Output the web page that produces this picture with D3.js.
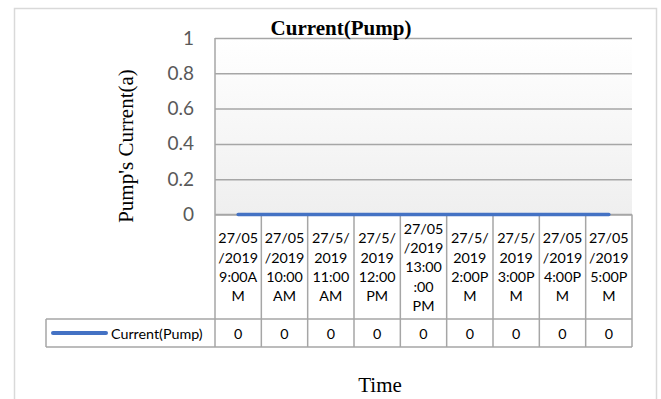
<!DOCTYPE html>
<html>
<head>
<meta charset="utf-8">
<script src="https://cdn.jsdelivr.net/npm/d3@7"></script>
<style>
  html, body { margin: 0; padding: 0; background: #fff; }
  svg { display: block; }
</style>
</head>
<body>
<svg id="chart" width="661" height="399"></svg>
<script>
// Time stamps, already broken into the lines shown in each table header cell
const categories = [
  ["27/05", "/2019", "9:00A", "M"],
  ["27/05", "/2019", "10:00", "AM"],
  ["27/5/", "2019", "11:00", "AM"],
  ["27/5/", "2019", "12:00", "PM"],
  ["27/05", "/2019", "13:00", ":00", "PM"],
  ["27/5/", "2019", "2:00P", "M"],
  ["27/5/", "2019", "3:00P", "M"],
  ["27/05", "/2019", "4:00P", "M"],
  ["27/05", "/2019", "5:00P", "M"]
];
const seriesName = "Current(Pump)";
const pumpCurrent = [0, 0, 0, 0, 0, 0, 0, 0, 0];
const yTicks = [0, 0.2, 0.4, 0.6, 0.8, 1];
const chartTitle = "Current(Pump)";
const yTitle = "Pump's Current(a)";
const xTitle = "Time";

const svg = d3.select("#chart");
const W = 661, H = 399;
const plot = { left: 215, right: 632, top: 38, bottom: 214.5 };
const table = { headerBottom: 319, rowBottom: 347, legendLeft: 46 };
const gridColor = "#a6a6a6";
const lineColor = "#4472c4";
const sansFont = "Lato, 'Liberation Sans', sans-serif";
const serifFont = "'Liberation Serif', 'DejaVu Serif', serif";
const cellFontSize = 14.3;

// outer chart frame
svg.append("rect").attr("width", W).attr("height", H).attr("fill", "#fff");
svg.append("rect")
  .attr("x", 14.5).attr("y", 8.5).attr("width", 642).attr("height", 420)
  .attr("fill", "#fff").attr("stroke", "#d9d9d9").attr("stroke-width", 1.5);

const x = d3.scaleBand().domain(d3.range(categories.length)).range([plot.left, plot.right]).padding(0);
const y = d3.scaleLinear().domain([0, 1]).range([plot.bottom, plot.top]);

// plot area shading
const defs = svg.append("defs");
const grad = defs.append("linearGradient").attr("id", "plotFill")
  .attr("x1", 0).attr("y1", 0).attr("x2", 0).attr("y2", 1);
grad.append("stop").attr("offset", "0%").attr("stop-color", "#ffffff");
grad.append("stop").attr("offset", "100%").attr("stop-color", "#efefef");
svg.append("rect")
  .attr("x", plot.left).attr("y", plot.top)
  .attr("width", plot.right - plot.left).attr("height", plot.bottom - plot.top)
  .attr("fill", "url(#plotFill)");

// horizontal gridlines
const grid = svg.append("g")
  .attr("transform", `translate(${plot.left},0)`)
  .call(d3.axisLeft(y).tickValues(yTicks).tickSize(-(plot.right - plot.left)).tickFormat(""));
grid.select(".domain").remove();
grid.selectAll(".tick line").attr("stroke", gridColor).attr("stroke-width", 1.5);

// y tick labels
const yAxis = svg.append("g")
  .attr("transform", `translate(${plot.left - 21},0)`)
  .call(d3.axisLeft(y).tickValues(yTicks).tickSize(0).tickPadding(0)
    .tickFormat(d => String(+d.toFixed(1))));
yAxis.select(".domain").remove();
yAxis.selectAll(".tick text")
  .attr("font-family", sansFont).attr("font-size", 19).attr("fill", "#595959");

// data table: header and value rows
const tbl = svg.append("g").attr("stroke", gridColor).attr("stroke-width", 1.5).attr("fill", "none");
// left axis line running down through the table
tbl.append("line").attr("x1", plot.left).attr("x2", plot.left)
  .attr("y1", plot.top).attr("y2", table.rowBottom);
// column separators
categories.forEach((c, i) => {
  const xr = x(i) + x.bandwidth();
  tbl.append("line").attr("x1", xr).attr("x2", xr)
    .attr("y1", plot.bottom).attr("y2", table.rowBottom);
});
// horizontal table rules
tbl.append("line").attr("x1", plot.left).attr("x2", plot.right)
  .attr("y1", plot.bottom).attr("y2", plot.bottom);
tbl.append("line").attr("x1", table.legendLeft).attr("x2", plot.right)
  .attr("y1", table.headerBottom).attr("y2", table.headerBottom);
tbl.append("line").attr("x1", table.legendLeft).attr("x2", plot.right)
  .attr("y1", table.rowBottom).attr("y2", table.rowBottom);
tbl.append("line").attr("x1", table.legendLeft).attr("x2", table.legendLeft)
  .attr("y1", table.headerBottom).attr("y2", table.rowBottom);

// header cell text
const lineH = 19.3;
const headerMid = (plot.bottom + table.headerBottom) / 2;
const header = svg.append("g")
  .attr("font-family", sansFont).attr("font-size", cellFontSize).attr("fill", "#000")
  .attr("text-anchor", "middle");
categories.forEach((lines, i) => {
  const cx = x(i) + x.bandwidth() / 2;
  const y0 = headerMid - (lines.length - 1) * lineH / 2;
  lines.forEach((t, k) => {
    header.append("text").attr("x", cx).attr("y", y0 + k * lineH)
      .attr("dominant-baseline", "central").text(t);
  });
});

// value row text
const rowMid = (table.headerBottom + table.rowBottom) / 2;
svg.append("g")
  .attr("font-family", sansFont).attr("font-size", cellFontSize).attr("fill", "#000")
  .attr("text-anchor", "middle")
  .selectAll("text").data(pumpCurrent).join("text")
  .attr("x", (d, i) => x(i) + x.bandwidth() / 2)
  .attr("y", rowMid)
  .attr("dominant-baseline", "central")
  .text(d => d);

// legend key inside the table
svg.append("line")
  .attr("x1", 53).attr("x2", 106).attr("y1", rowMid).attr("y2", rowMid)
  .attr("stroke", lineColor).attr("stroke-width", 4).attr("stroke-linecap", "round");
svg.append("text")
  .attr("x", 111).attr("y", rowMid).attr("dominant-baseline", "central")
  .attr("font-family", sansFont).attr("font-size", cellFontSize).attr("fill", "#000")
  .text(seriesName);

// series line
const line = d3.line()
  .x((d, i) => x(i) + x.bandwidth() / 2)
  .y(d => y(d));
svg.append("path").datum(pumpCurrent)
  .attr("d", line)
  .attr("fill", "none").attr("stroke", lineColor)
  .attr("stroke-width", 3.5).attr("stroke-linecap", "round");

// titles
svg.append("text")
  .attr("x", 341).attr("y", 35).attr("text-anchor", "middle")
  .attr("font-family", serifFont).attr("font-weight", "bold").attr("font-size", 21)
  .attr("fill", "#000").text(chartTitle);
svg.append("text")
  .attr("transform", "translate(126,146) rotate(-90)")
  .attr("text-anchor", "middle").attr("dominant-baseline", "central")
  .attr("font-family", serifFont).attr("font-size", 21).attr("fill", "#000")
  .text(yTitle);
svg.append("text")
  .attr("x", 380).attr("y", 392).attr("text-anchor", "middle")
  .attr("font-family", serifFont).attr("font-size", 21).attr("fill", "#000")
  .text(xTitle);
</script>
</body>
</html>
